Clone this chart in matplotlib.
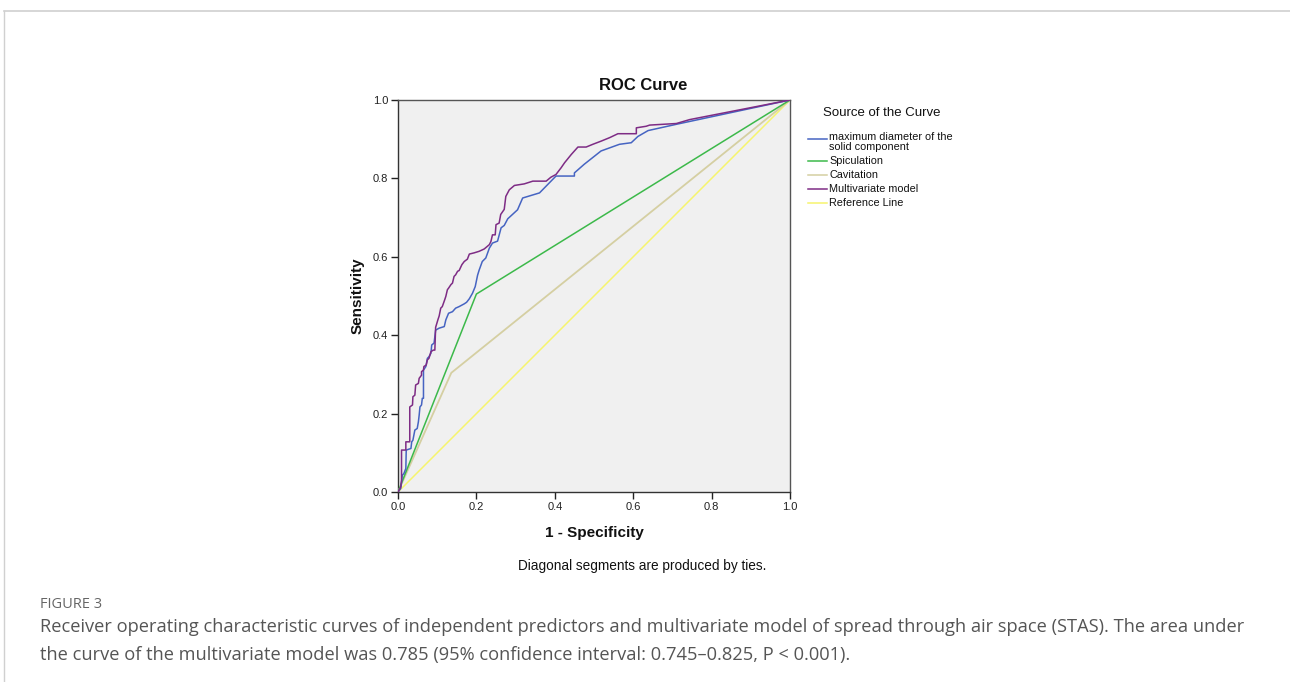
import matplotlib
matplotlib.use("Agg")
import matplotlib.pyplot as plt
from matplotlib.lines import Line2D

# ---- data ----
mv_fpr = [0.0, 0.007, 0.009, 0.009, 0.020, 0.020, 0.030, 0.030, 0.037, 0.038, 0.043, 0.045, 0.052, 0.054,
          0.060, 0.060, 0.065, 0.066, 0.072, 0.075, 0.079, 0.084, 0.090, 0.094, 0.096, 0.102, 0.105, 0.109,
          0.113, 0.119, 0.122, 0.126, 0.129, 0.135, 0.139, 0.143, 0.147, 0.152, 0.156, 0.163, 0.169, 0.177,
          0.182, 0.194, 0.207, 0.220, 0.233, 0.237, 0.241, 0.248, 0.250, 0.258, 0.262, 0.271, 0.275, 0.284,
          0.297, 0.322, 0.344, 0.378, 0.390, 0.403, 0.416, 0.425, 0.442, 0.459, 0.480, 0.497, 0.518, 0.540,
          0.561, 0.608, 0.608, 0.633, 0.642, 0.710, 0.744, 1.0]
mv_tpr = [0.0, 0.013, 0.030, 0.107, 0.107, 0.128, 0.128, 0.217, 0.222, 0.243, 0.247, 0.273, 0.277, 0.290,
          0.298, 0.307, 0.311, 0.320, 0.324, 0.337, 0.341, 0.358, 0.362, 0.362, 0.420, 0.440, 0.449, 0.469,
          0.473, 0.490, 0.499, 0.516, 0.520, 0.529, 0.533, 0.550, 0.554, 0.563, 0.565, 0.580, 0.588, 0.594,
          0.607, 0.610, 0.614, 0.620, 0.631, 0.639, 0.656, 0.656, 0.682, 0.686, 0.708, 0.721, 0.754, 0.771,
          0.782, 0.786, 0.793, 0.793, 0.803, 0.810, 0.827, 0.840, 0.861, 0.880, 0.880, 0.887, 0.895, 0.904,
          0.914, 0.914, 0.929, 0.933, 0.936, 0.940, 0.950, 1.0]

md_fpr = [0.0, 0.007, 0.011, 0.015, 0.020, 0.021, 0.033, 0.035, 0.038, 0.043, 0.049, 0.052, 0.054, 0.056,
          0.060, 0.062, 0.065, 0.065, 0.071, 0.075, 0.079, 0.084, 0.086, 0.092, 0.096, 0.105, 0.118, 0.122,
          0.129, 0.139, 0.147, 0.156, 0.169, 0.175, 0.182, 0.190, 0.197, 0.203, 0.207, 0.215, 0.224, 0.233,
          0.241, 0.254, 0.263, 0.271, 0.280, 0.292, 0.305, 0.318, 0.361, 0.403, 0.450, 0.450, 0.475, 0.518,
          0.565, 0.595, 0.612, 0.638, 0.710, 1.0]
md_tpr = [0.0, 0.009, 0.043, 0.047, 0.060, 0.107, 0.111, 0.128, 0.132, 0.158, 0.162, 0.179, 0.196, 0.217,
          0.222, 0.239, 0.239, 0.311, 0.320, 0.341, 0.345, 0.354, 0.375, 0.380, 0.413, 0.418, 0.422, 0.439,
          0.456, 0.460, 0.469, 0.473, 0.480, 0.484, 0.493, 0.507, 0.524, 0.553, 0.566, 0.588, 0.597, 0.622,
          0.635, 0.640, 0.674, 0.680, 0.697, 0.708, 0.720, 0.750, 0.763, 0.806, 0.806, 0.814, 0.836, 0.870,
          0.887, 0.891, 0.907, 0.922, 0.938, 1.0]

spic_fpr = [0.0, 0.200, 1.0]
spic_tpr = [0.0, 0.505, 1.0]

cav_fpr = [0.0, 0.136, 1.0]
cav_tpr = [0.0, 0.304, 1.0]

ref_fpr = [0.0, 1.0]
ref_tpr = [0.0, 1.0]

tick_vals = [0.0, 0.2, 0.4, 0.6, 0.8, 1.0]
tick_labels = ["0.0", "0.2", "0.4", "0.6", "0.8", "1.0"]

labels = ["maximum diameter of the\nsolid component", "Spiculation", "Cavitation",
          "Multivariate model", "Reference Line"]
colors = ["#4664C2", "#3CB94A", "#D5CFA2", "#7E2C85", "#F6F46E"]

caption_head = "FIGURE 3"
caption_lines = ["Receiver operating characteristic curves of independent predictors and multivariate model of spread through air space (STAS). The area under",
                 "the curve of the multivariate model was 0.785 (95% confidence interval: 0.745\u20130.825, P < 0.001)."]

# ---- figure ----
W, H = 1290, 682
fig = plt.figure(figsize=(W / 100, H / 100), dpi=100)
plt.rcParams['font.family'] = ['Liberation Sans', 'DejaVu Sans']

# outer frame (top + left border)
fig.add_artist(Line2D([4 / W, 1.0], [1 - 11 / H, 1 - 11 / H], color="#D0D0D0", lw=1.2, transform=fig.transFigure))
fig.add_artist(Line2D([4 / W, 4 / W], [1 - 11 / H, 0.0], color="#D0D0D0", lw=1.0, transform=fig.transFigure))

ax = fig.add_axes([398 / W, 1 - 492 / H, 392 / W, 392 / H])
ax.set_facecolor("#F0F0F0")

lw = 1.1
ax.plot(ref_fpr, ref_tpr, color=colors[4], lw=lw, zorder=2)
ax.plot(cav_fpr, cav_tpr, color=colors[2], lw=1.3, zorder=3)
ax.plot(spic_fpr, spic_tpr, color=colors[1], lw=lw, zorder=4)
ax.plot(md_fpr, md_tpr, color=colors[0], lw=lw, zorder=5)
ax.plot(mv_fpr, mv_tpr, color=colors[3], lw=lw, zorder=6)

ax.set_xlim(0, 1)
ax.set_ylim(0, 1)
ax.set_xticks(tick_vals)
ax.set_xticklabels(tick_labels)
ax.set_yticks(tick_vals)
ax.set_yticklabels(tick_labels)
ax.tick_params(direction="out", length=5, width=1, labelsize=8, colors="#222222", pad=2)
for s in ax.spines.values():
    s.set_color("#333333")
    s.set_linewidth(1.0)
ax.spines["top"].set_color("#555555")
ax.spines["right"].set_color("#555555")

fig.text(643 / W, 1 - 85 / H, "ROC Curve", fontsize=12, fontweight="bold", ha="center", va="center",
         color="#111111")
ax.set_xlabel("1 - Specificity", fontsize=11, fontweight="bold", labelpad=10, color="#111111")
ax.set_ylabel("Sensitivity", fontsize=11, fontweight="bold", labelpad=6, color="#111111")

# legend (drawn manually in figure coords)
fig.text(823 / W, 1 - 113 / H, "Source of the Curve", fontsize=9.5, va="center", ha="left", color="#111111")
leg_y = [136, 161, 175, 189, 203]
for yy, lab, c in zip(leg_y, labels, colors):
    line_y = yy + 3 if "\n" in lab else yy
    fig.add_artist(Line2D([808 / W, 827 / W], [1 - line_y / H] * 2, color=c, lw=1.1, transform=fig.transFigure))
    fig.text(829 / W, 1 - (yy + (6 if "\n" in lab else 0)) / H, lab, fontsize=7.8, va="center", ha="left",
             linespacing=0.9, color="#111111")

fig.text(642 / W, 1 - 566 / H, "Diagonal segments are produced by ties.", fontsize=9.8, ha="center",
         va="center", color="#111111")

# caption
fig.text(40 / W, 1 - 604 / H, caption_head, fontsize=10.5, ha="left", va="center", color="#666666",
         family=["Open Sans", "DejaVu Sans"])
for i, ln in enumerate(caption_lines):
    fig.text(40 / W, 1 - (627 + 28 * i) / H, ln, fontsize=13.15, ha="left", va="center", color="#555555",
             family=["Open Sans", "DejaVu Sans"])

fig.savefig("out.png", dpi=100)
